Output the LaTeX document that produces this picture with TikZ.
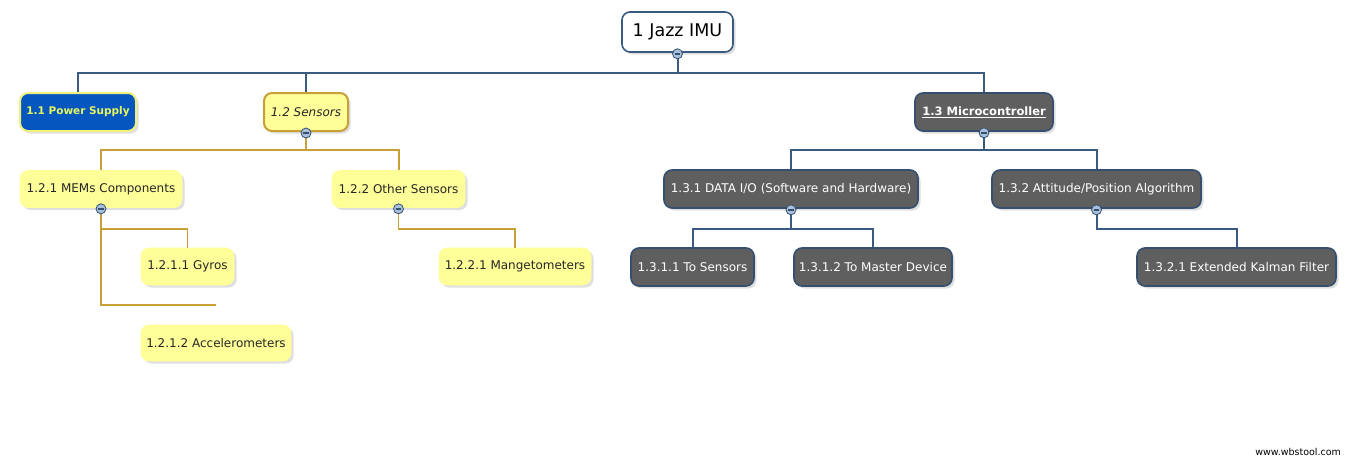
\documentclass[tikz,border=0pt]{standalone}
\usepackage{fontspec}
\setmainfont{DejaVu Sans}
\usetikzlibrary{shadows}
\definecolor{linkblue}{HTML}{3A5A80}
\definecolor{gold}{HTML}{C8A03A}
\definecolor{psblue}{HTML}{0556BE}
\definecolor{psedge}{HTML}{F0F080}
\definecolor{pstext}{HTML}{E8F860}
\definecolor{leafy}{HTML}{FFFF99}
\definecolor{grayfill}{HTML}{5F5F5F}
\definecolor{grayedge}{HTML}{35506E}
\definecolor{btnfill}{HTML}{A8C0DC}
\tikzset{
  box/.style={rectangle, rounded corners=8pt, inner sep=0pt, align=center,
     font=\fontsize{12}{14}\selectfont,
     drop shadow={shadow xshift=2.5pt, shadow yshift=-2.5pt, fill=black!25}},
  rootbox/.style={box, draw=linkblue, line width=1.6pt, fill=white, text=black,
     font=\fontsize{17.5}{20}\selectfont},
  psbox/.style={box, draw=psedge, line width=2pt, fill=psblue, text=pstext,
     font=\fontsize{10.5}{13}\selectfont\bfseries},
  sensbox/.style={box, draw=gold, line width=2pt, fill=leafy, text=black!85,
     font=\fontsize{12}{14}\selectfont\itshape},
  leafbox/.style={box, draw=leafy, line width=0.6pt, fill=leafy, text=black!85},
  graybox/.style={box, draw=grayedge, line width=1.6pt, fill=grayfill, text=white},
  bluelink/.style={draw=linkblue, line width=2pt},
  goldlink/.style={draw=gold, line width=2pt},
  goldthin/.style={draw=gold, line width=1.2pt},
  btn/.style={circle, draw=grayedge, line width=0.8pt, fill=btnfill, minimum size=10pt, inner sep=0pt,
     path picture={\draw[grayedge, line width=1.5pt] ([xshift=-2.8pt]path picture bounding box.center) -- ([xshift=2.8pt]path picture bounding box.center);}},
}
\begin{document}
\begin{tikzpicture}[x=1pt,y=-1pt]
\useasboundingbox (0,0) rectangle (1355,459);
% nodes
\node[rootbox, minimum width=111pt, minimum height=40pt] (root) at (677.5,32) {1 Jazz IMU};
\node[psbox, minimum width=116pt, minimum height=38pt] (ps) at (78,112) {1.1 Power Supply};
\node[sensbox, minimum width=84pt, minimum height=38pt] (sens) at (306,112) {1.2 Sensors};
\node[graybox, minimum width=138pt, minimum height=38pt, font=\fontsize{11.5}{14}\selectfont\bfseries] (mc) at (984,112) {\underline{1.3 Microcontroller}};
\node[leafbox, minimum width=162pt, minimum height=37pt] (mems) at (101,189) {1.2.1 MEMs Components};
\node[leafbox, minimum width=133pt, minimum height=37pt] (other) at (398.5,189) {1.2.2 Other Sensors};
\node[leafbox, minimum width=93pt, minimum height=37pt] (gyros) at (187.5,266.5) {1.2.1.1 Gyros};
\node[leafbox, minimum width=150pt, minimum height=36pt] (accel) at (216,343) {1.2.1.2 Accelerometers};
\node[leafbox, minimum width=152pt, minimum height=37pt] (mang) at (515,266.5) {1.2.2.1 Mangetometers};
\node[graybox, minimum width=254pt, minimum height=38pt] (dataio) at (791,189) {1.3.1 DATA I/O (Software and Hardware)};
\node[graybox, minimum width=209pt, minimum height=38pt] (att) at (1096.5,189) {1.3.2 Attitude/Position Algorithm};
\node[graybox, minimum width=123pt, minimum height=38pt] (tosens) at (692.5,267) {1.3.1.1 To Sensors};
\node[graybox, minimum width=158pt, minimum height=38pt] (tomaster) at (873,267) {1.3.1.2 To Master Device};
\node[graybox, minimum width=199pt, minimum height=38pt] (ekf) at (1236.5,267) {1.3.2.1 Extended Kalman Filter};
% bus levels
\coordinate (y73) at (0,73);
\coordinate (y150) at (0,150);
\coordinate (y229) at (0,229);
\coordinate (y305) at (0,305);
% connectors
\draw[bluelink] (root.south) -- (root.south |- y73) -| (ps.north);
\draw[bluelink] (root.south) -- (root.south |- y73) -| (sens.north);
\draw[bluelink] (root.south) -- (root.south |- y73) -| (mc.north);
\draw[goldlink] (sens.south) -- (sens.south |- y150) -| (mems.north);
\draw[goldlink] (sens.south) -- (sens.south |- y150) -| (other.north);
\draw[goldthin] (mems.south) -- (mems.south |- y229) -| (gyros.north);
\draw[goldthin] (mems.south) -- (mems.south |- y305) -- (accel.north |- y305);
\draw[goldthin] (other.south) -- (other.south |- y229) -| (mang.north);
\draw[bluelink] (mc.south) -- (mc.south |- y150) -| (dataio.north);
\draw[bluelink] (mc.south) -- (mc.south |- y150) -| (att.north);
\draw[bluelink] (dataio.south) -- (dataio.south |- y229) -| (tosens.north);
\draw[bluelink] (dataio.south) -- (dataio.south |- y229) -| (tomaster.north);
\draw[bluelink] (att.south) -- (att.south |- y229) -| (ekf.north);
% collapse buttons
\node[btn] (b0) at ([yshift=-1pt]root.south) {};
\node[btn] (b1) at ([yshift=-1pt]sens.south) {};
\node[btn] (b2) at ([yshift=-1pt]mems.south) {};
\node[btn] (b3) at ([yshift=-1pt]other.south) {};
\node[btn] (b4) at ([yshift=-1pt]mc.south) {};
\node[btn] (b5) at ([yshift=-1pt]dataio.south) {};
\node[btn] (b6) at ([yshift=-1pt]att.south) {};
% watermark
\node[anchor=east, inner sep=0pt, font=\fontsize{9.5}{11}\selectfont] (wm) at (1341,452) {www.wbstool.com};
\end{tikzpicture}
\end{document}
